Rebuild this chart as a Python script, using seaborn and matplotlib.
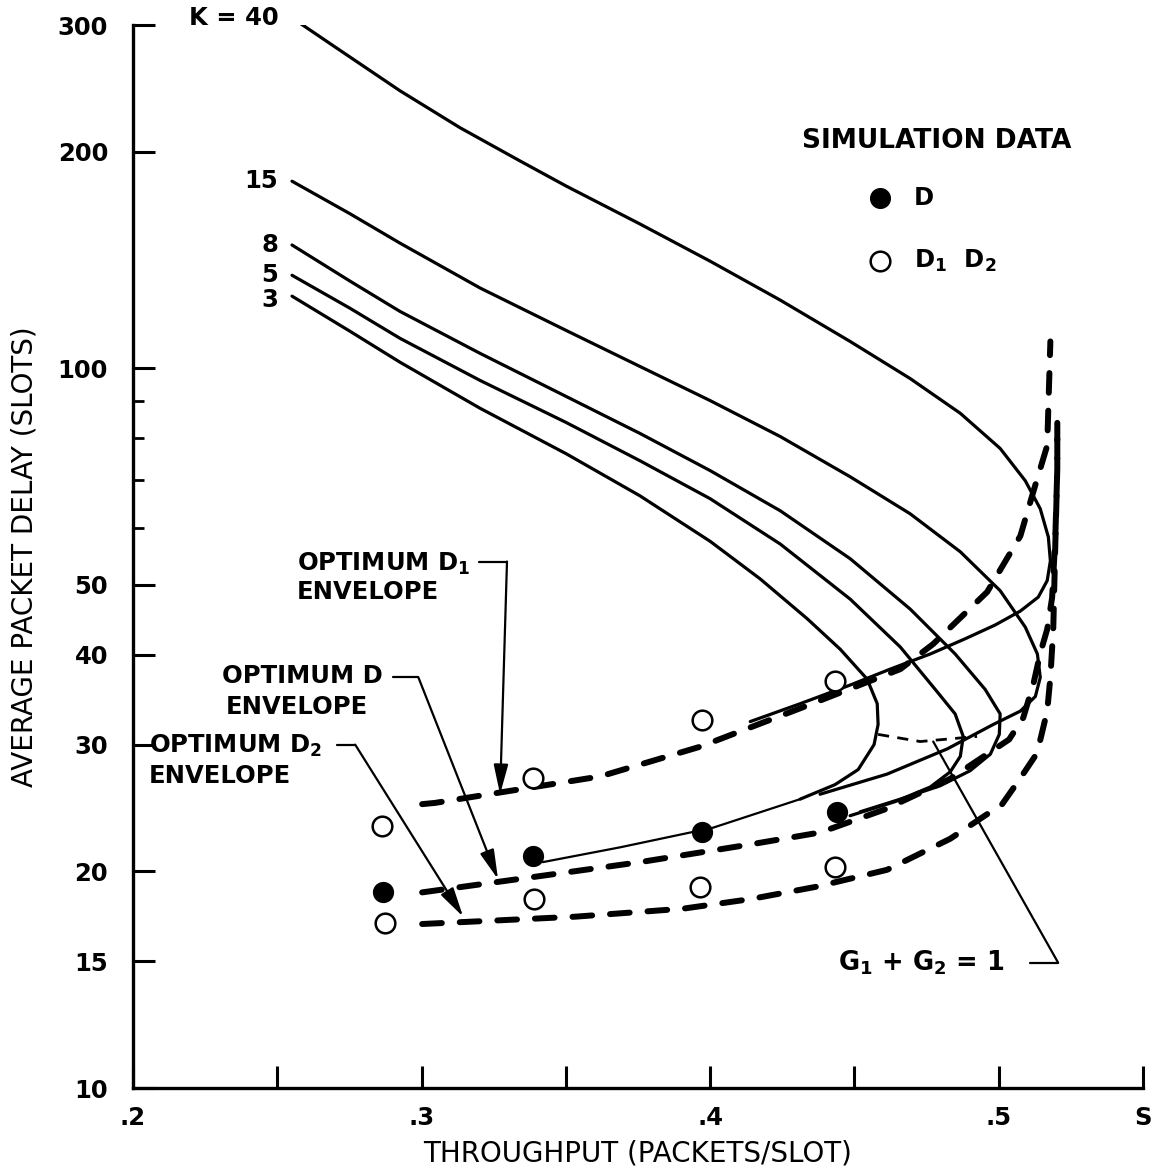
import numpy as np
import pandas as pd
import matplotlib
matplotlib.use("Agg")
import matplotlib.pyplot as plt
from matplotlib.ticker import FixedLocator, NullFormatter
import seaborn as sns

# delay curves, one per K (upper branch, nose, lower branch)
k40_x = [0.2551, 0.2693, 0.2925, 0.3133, 0.3341, 0.3501, 0.3757, 0.4, 0.4243, 0.4485,
         0.4693, 0.4867, 0.5005, 0.5092, 0.5144, 0.5172, 0.5179, 0.5168, 0.5137, 0.5075, 0.4988,
         0.4884, 0.4763, 0.4624, 0.4485, 0.4312, 0.4139]
k40_y = [307, 280.9, 243.1, 216.0, 194.2, 179.2, 158.7, 140.9, 124.4, 109.0,
         96.8, 86.6, 77.4, 69.8, 63.8, 58.3, 54.0, 50.7, 48.1, 46.0, 44.0,
         42.1, 40.1, 38.2, 36.3, 34.2, 32.3]
k15_x = [0.2551, 0.2752, 0.2925, 0.3203, 0.3501, 0.3757, 0.4, 0.4243, 0.4485, 0.4693, 0.4867,
         0.5005, 0.5092, 0.5134, 0.5144, 0.5127, 0.5075, 0.4981, 0.4822, 0.4613, 0.4381]
k15_y = [182, 164.0, 149.3, 129.3, 112.9, 100.6, 90.2, 80.4, 70.7, 62.8, 55.6,
         49.1, 43.7, 40.1, 37.2, 35.0, 33.4, 32.0, 29.6, 27.3, 25.6]
k8_x = [0.2551, 0.2752, 0.2925, 0.3203, 0.3501, 0.3757, 0.4, 0.4243, 0.4485, 0.4693, 0.4849,
        0.4953, 0.5005, 0.5002, 0.4971, 0.4901, 0.4797, 0.4659, 0.452]
k8_y = [148.4, 132.2, 120, 104.9, 91.4, 81.2, 72.1, 63.4, 54.4, 46.3, 40.1,
        35.8, 33.1, 31.0, 29.1, 27.6, 26.3, 25.2, 24.2]
k5_x = [0.2551, 0.2752, 0.2925, 0.3203, 0.3501, 0.3757, 0.4, 0.4243, 0.4485, 0.4659, 0.478,
        0.4849, 0.4877, 0.4867, 0.4832, 0.4763, 0.4641, 0.4485]
k5_y = [134.7, 121.2, 110.1, 96.2, 84.1, 74.4, 65.9, 57.0, 47.8, 41.0, 35.8,
        33.1, 30.8, 28.9, 27.5, 26.2, 25.0, 23.9]
k3_x = [0.2551, 0.2752, 0.2925, 0.3203, 0.3501, 0.3757, 0.4, 0.4173, 0.4336, 0.4451, 0.4544,
        0.4579, 0.4582, 0.4568, 0.4513, 0.4433, 0.4312]
k3_y = [126, 112.6, 102.0, 88.0, 76.1, 66.5, 57.5, 51.0, 44.9, 40.7, 37.0,
        34.2, 32.0, 30.0, 27.7, 26.4, 25.2]
# thin tail of the lower branch through the D points
tail_x = [0.4312, 0.401, 0.3688, 0.342]
tail_y = [25.2, 23.0, 21.6, 20.6]

# optimum envelopes
d1_x = [0.3002, 0.3047, 0.3619, 0.3965, 0.4312, 0.4659, 0.4773, 0.496, 0.5075, 0.512, 0.5168, 0.5179]
d1_y = [24.8, 24.9, 27.1, 29.8, 33.7, 38.2, 41.4, 48.9, 58.5, 67.4, 78.1, 109]
d_x = [0.3002, 0.341, 0.3757, 0.4139, 0.4381, 0.4607, 0.4832, 0.5036, 0.5085, 0.512, 0.5144, 0.5168,
       0.5185, 0.5196, 0.5203, 0.5203]
d_y = [18.7, 19.7, 20.6, 21.8, 22.65, 24.4, 26.9, 30.5, 32.7, 36.4, 40.2, 43.4,
       48.0, 58.0, 72.6, 84]
d2_x = [0.3002, 0.3532, 0.3906, 0.4139, 0.4371, 0.4613, 0.4832, 0.5012, 0.5071, 0.5133, 0.5168, 0.5179,
        0.5189, 0.5196, 0.5203, 0.5203]
d2_y = [16.9, 17.3, 17.75, 18.3, 19.05, 20.1, 22.2, 24.8, 26.8, 29.2, 33.4, 37.2,
        43.4, 56.7, 72.6, 84]
g_x = [0.4582, 0.4728, 0.4925]
g_y = [31.0, 30.3, 30.8]

# simulation data
sim_d_x = [0.2867, 0.3386, 0.3972, 0.444]
sim_d_y = [18.7, 20.98, 22.65, 24.2]
sim_d12_x = [0.2863, 0.2873, 0.3386, 0.339, 0.3972, 0.3965, 0.4433, 0.4433]
sim_d12_y = [23.1, 16.95, 27.0, 18.3, 32.5, 19.0, 36.8, 20.25]

k_labels = ["K = 40", "15", "8", "5", "3"]
k_label_y = [307, 182, 148.4, 134.7, 124.4]

y_ticks = [10, 15, 20, 30, 40, 50, 100, 200, 300]
x_ticks = [0.2, 0.25, 0.3, 0.35, 0.4, 0.45, 0.5, 0.55]
x_tick_labels = [".2", "", ".3", "", ".4", "", ".5", "S"]

sns.set_theme(style="ticks")
plt.rcParams['font.family'] = ['DejaVu Sans']
plt.rcParams['text.color'] = 'black'
plt.rcParams['axes.labelcolor'] = 'black'
plt.rcParams['xtick.color'] = 'black'
plt.rcParams['ytick.color'] = 'black'
plt.rcParams['mathtext.fontset'] = 'custom'
plt.rcParams['mathtext.rm'] = 'DejaVu Sans:bold'
plt.rcParams['mathtext.it'] = 'DejaVu Sans:bold'
plt.rcParams['mathtext.bf'] = 'DejaVu Sans:bold'

FS = 17.5

fig = plt.figure(figsize=(11.61, 11.74), dpi=100)
ax = fig.add_axes([0.11456, 0.07325, 0.86994, 0.90545])

solid = dict(color="black", linewidth=2.3, sort=False, estimator=None, solid_capstyle="round")
for xs, ys in [(k40_x, k40_y), (k15_x, k15_y), (k8_x, k8_y), (k5_x, k5_y), (k3_x, k3_y)]:
    sns.lineplot(x=xs, y=ys, ax=ax, **solid)
sns.lineplot(x=tail_x, y=tail_y, ax=ax, color="black", linewidth=1.6, sort=False, estimator=None)

dashed = dict(color="black", linewidth=4.3, sort=False, estimator=None,
              linestyle=(0, (3.3, 3.0)), dash_capstyle="round")
for xs, ys in [(d1_x, d1_y), (d_x, d_y), (d2_x, d2_y)]:
    sns.lineplot(x=xs, y=ys, ax=ax, **dashed)
sns.lineplot(x=g_x, y=g_y, ax=ax, color="black", linewidth=2.0, sort=False, estimator=None,
             linestyle=(0, (4, 3)))

sns.scatterplot(x=sim_d_x, y=sim_d_y, ax=ax, color="black", s=200, edgecolor="black", zorder=5)
sns.scatterplot(x=sim_d12_x, y=sim_d12_y, ax=ax, color="white", s=200, edgecolor="black",
                linewidth=1.8, zorder=5)

ax.set_yscale("log")
ax.set_xlim(0.2, 0.55)
ax.set_ylim(10, 300)
ax.set_yticks(y_ticks)
ax.set_yticklabels([str(t) for t in y_ticks])
ax.yaxis.set_minor_locator(FixedLocator([60, 70, 80, 90]))
ax.yaxis.set_minor_formatter(NullFormatter())
ax.set_xticks(x_ticks)
ax.set_xticklabels(x_tick_labels)
ax.tick_params(axis="both", which="major", direction="in", length=16, width=2.2,
               labelsize=FS, colors="black")
ax.tick_params(axis="y", which="major", pad=18)
ax.tick_params(axis="x", which="major", pad=13)
ax.tick_params(axis="y", which="minor", direction="in", length=8, width=2.0, colors="black")
for lab in ax.get_xticklabels() + ax.get_yticklabels():
    lab.set_fontweight("bold")
sns.despine(ax=ax)
for sp in ["left", "bottom"]:
    ax.spines[sp].set_linewidth(2.4)
    ax.spines[sp].set_color("black")

ax.set_ylabel("AVERAGE PACKET DELAY (SLOTS)", fontsize=20, labelpad=14, color="black")
ax.set_xlabel("THROUGHPUT (PACKETS/SLOT)", fontsize=20, labelpad=7, color="black")

bold = dict(fontsize=FS, fontweight="bold", color="black")
for lab, yv in zip(k_labels, k_label_y):
    ax.text(0.2503, yv, lab, ha="right", va="center", **bold)

ax.text(0.4319, 207, "SIMULATION DATA", ha="left", va="center",
        fontsize=19, fontweight="bold", color="black")
ax.scatter([0.4589], [172.5], s=200, color="black", clip_on=False)
ax.text(0.4705, 172.5, "D", ha="left", va="center", **bold)
ax.scatter([0.4589], [141], s=200, color="white", edgecolor="black", linewidth=1.8, clip_on=False)
ax.text(0.4705, 141, "D$_1$  D$_2$", ha="left", va="center", **bold)

ax.text(0.2568, 53.5, "OPTIMUM D$_1$", ha="left", va="center", **bold)
ax.text(0.2568, 48.9, "ENVELOPE", ha="left", va="center", **bold)
ax.text(0.2309, 37.4, "OPTIMUM D", ha="left", va="center", **bold)
ax.text(0.2323, 33.8, "ENVELOPE", ha="left", va="center", **bold)
ax.text(0.2055, 29.9, "OPTIMUM D$_2$", ha="left", va="center", **bold)
ax.text(0.2055, 27.1, "ENVELOPE", ha="left", va="center", **bold)
ax.text(0.4444, 14.93, "G$_1$ + G$_2$ = 1", ha="left", va="center",
        fontsize=18.5, fontweight="bold", color="black")

# leader lines with arrow heads
leaders = [
    ([0.3199, 0.3296, 0.3272], [53.9, 53.9, 25.6], True),
    ([0.2902, 0.2989, 0.3265], [37.2, 37.2, 19.5], True),
    ([0.2707, 0.277, 0.3144], [30.0, 30.0, 17.3], True),
    ([0.5109, 0.5206, 0.4773], [14.93, 14.93, 30.3], False),
]
for xs, ys, head in leaders:
    ax.plot(xs[:-1], ys[:-1], color="black", linewidth=1.6)
    if head:
        ax.annotate("", xy=(xs[-1], ys[-1]), xytext=(xs[-2], ys[-2]),
                    arrowprops=dict(arrowstyle="-|>,head_length=0.9,head_width=0.22",
                                    color="black", lw=1.6, mutation_scale=20,
                                    shrinkA=0, shrinkB=0))
    else:
        ax.plot(xs[-2:], ys[-2:], color="black", linewidth=1.6)

fig.savefig("out.png", dpi=100)
